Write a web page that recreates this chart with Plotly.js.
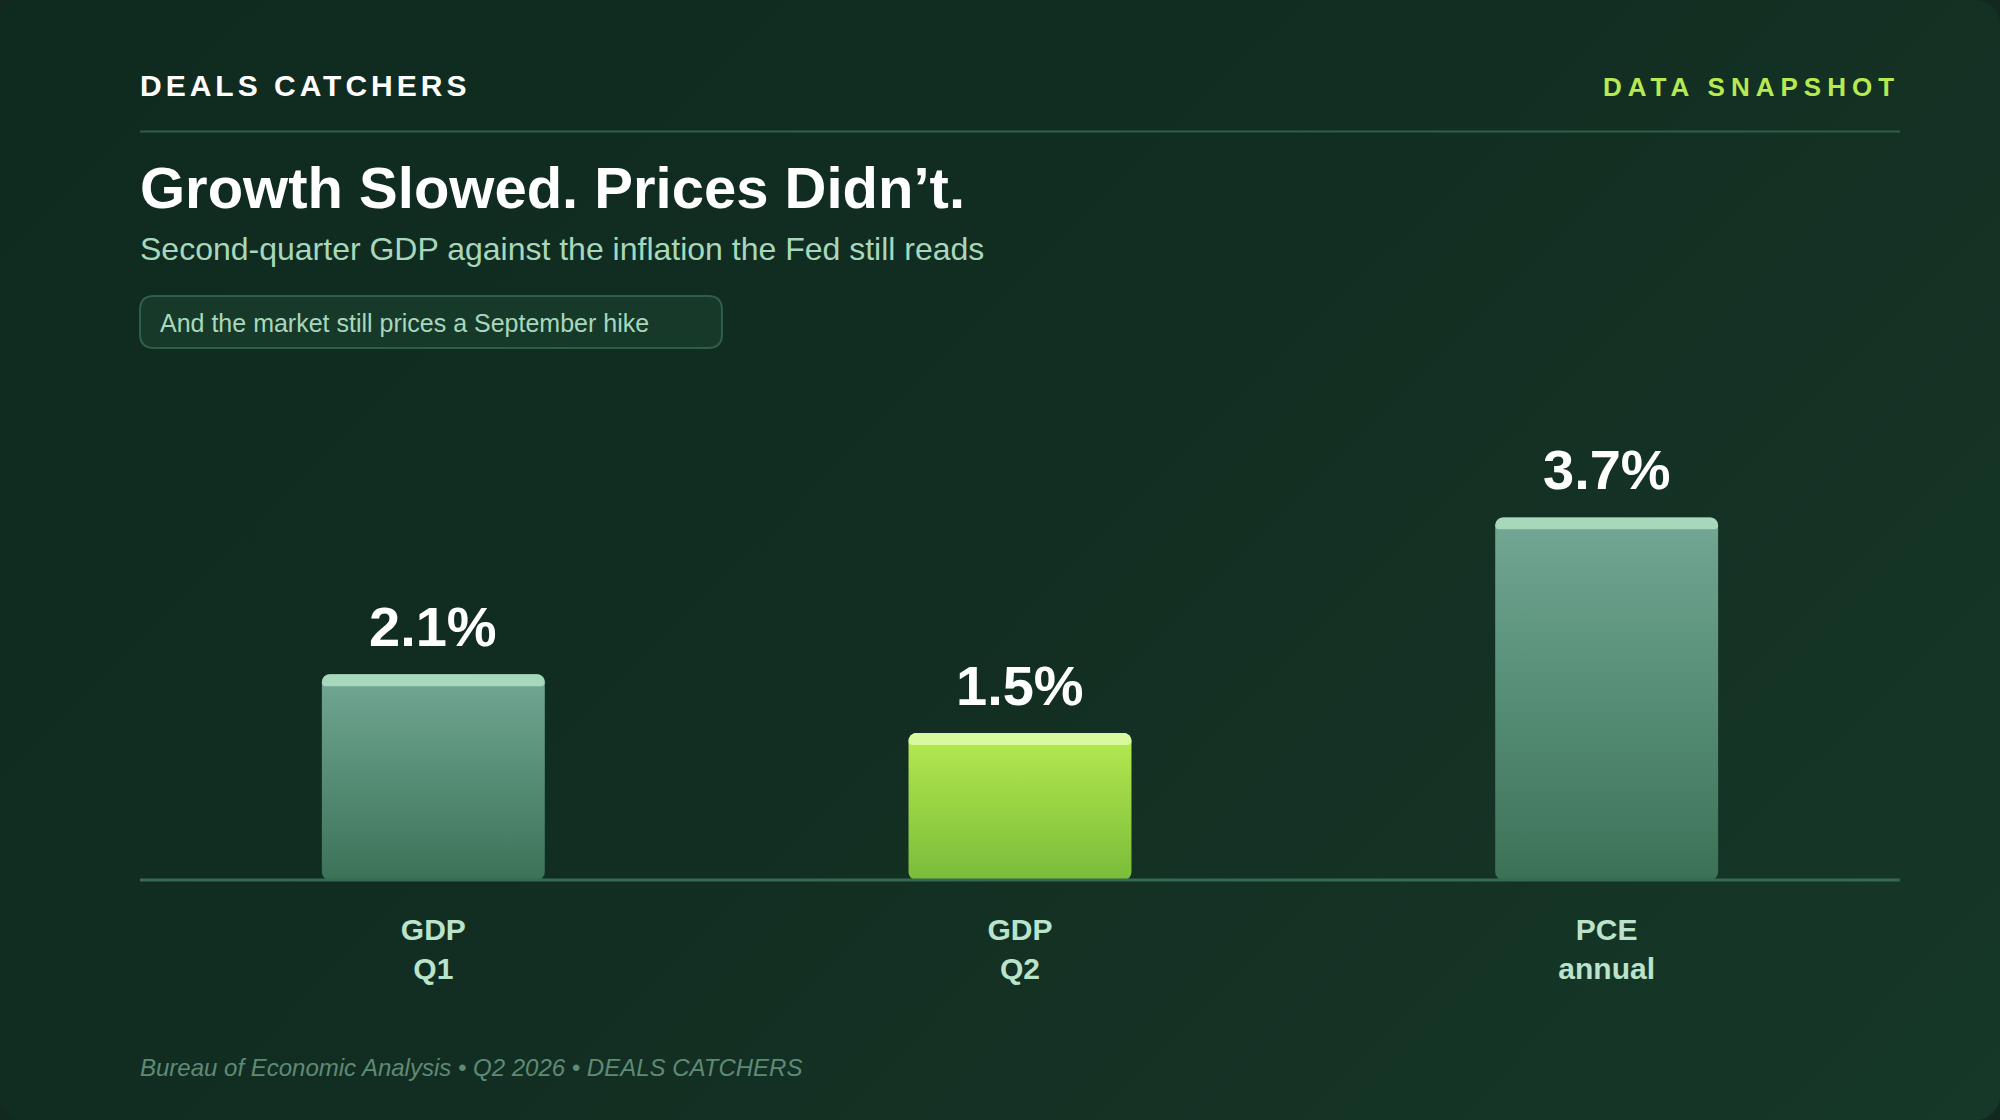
<!DOCTYPE html>
<html><head><meta charset="utf-8">
<script src="https://cdn.plot.ly/plotly-3.0.1.min.js"></script>
<style>html,body{margin:0;padding:0;width:2000px;height:1120px;overflow:hidden;background:#11291f;}#c{width:2000px;height:1120px;border-radius:24px;background:linear-gradient(135deg,#0f2b1f 0%,#122e22 50%,#163828 100%);}</style>
</head><body><div id="c"></div>
<script>
const categories=['GDP<br>Q1','GDP<br>Q2','PCE<br>annual'];
const values=[2.1,1.5,3.7];
const valueLabels=['2.1%','1.5%','3.7%'];
const capThickness=[0.122,0.122,0.122];
const topColors=['#72a894','#b6ea50','#72a894'];
const bottomColors=['#3b7257','#7abc39','#3b7257'];
const capColors=['#a8d8bc','#d9f99d','#a8d8bc'];
const FONT='"Liberation Sans",Arial,sans-serif';
const L=140,W=1760,B=880,H=490;
const px=x=>(x-L)/W, py=y=>(B-y)/H;
function rr(x0,y0,x1,y1,r){const X=px,Y=py;
 return `M${X(x0+r)},${Y(y0)}L${X(x1-r)},${Y(y0)}Q${X(x1)},${Y(y0)} ${X(x1)},${Y(y0+r)}L${X(x1)},${Y(y1-r)}Q${X(x1)},${Y(y1)} ${X(x1-r)},${Y(y1)}L${X(x0+r)},${Y(y1)}Q${X(x0)},${Y(y1)} ${X(x0)},${Y(y1-r)}L${X(x0)},${Y(y0+r)}Q${X(x0)},${Y(y0)} ${X(x0+r)},${Y(y0)}Z`;}
const note=(text,x,y,size,color,o={})=>Object.assign({text,x:px(x),y:py(y),xref:'paper',yref:'paper',xanchor:'left',yanchor:'middle',showarrow:false,font:{family:FONT,size,color}},o);
const annotations=[
 note('<b><span style="letter-spacing:4px">DEALS CATCHERS</span></b>',137.5,85.5,30,'#ffffff'),
 note('<b><span style="letter-spacing:6px">DATA SNAPSHOT</span></b>',1902,87,26,'#b6ea50',{xanchor:'right'}),
 note('<b>Growth Slowed. Prices Didn’t.</b>',137.5,188,58,'#ffffff'),
 note('Second-quarter GDP against the inflation the Fed still reads',137.5,249,32,'#a8d8bc'),
 note('And the market still prices a September hike',157.5,323,25,'#a8d8bc'),
 note('<i>Bureau of Economic Analysis • Q2 2026 • DEALS CATCHERS</i>',137.5,1067,24,'#5f8a75'),
 ...categories.map((c,i)=>({text:'<b>'+valueLabels[i]+'</b>',x:c,y:values[i],xref:'x',yref:'y',yanchor:'bottom',yshift:14,showarrow:false,font:{family:FONT,size:56,color:'#ffffff'}}))
];
const shapes=[
 {type:'line',xref:'paper',yref:'paper',x0:0,x1:1,y0:py(131.5),y1:py(131.5),line:{color:'#2f5f48',width:2}},
 {type:'path',xref:'paper',yref:'paper',path:rr(140,296,722,348,14),fillcolor:'#17392a',line:{color:'#2f5f48',width:2}},
 {type:'line',layer:'above',xref:'paper',yref:'paper',x0:0,x1:1,y0:py(880),y1:py(880),line:{color:'#356b50',width:3}}
];
const data=[
 {type:'bar',name:'value',x:categories,y:values,marker:{color:topColors,line:{width:0}},hoverinfo:'skip',showlegend:false},
 {type:'bar',name:'cap',x:categories,y:capThickness,base:values.map((v,i)=>v-capThickness[i]),marker:{color:capColors,line:{width:0}},hoverinfo:'skip',showlegend:false}
];
const layout={width:2000,height:1120,paper_bgcolor:'rgba(0,0,0,0)',plot_bgcolor:'rgba(0,0,0,0)',
 margin:{l:L,r:100,t:B-H,b:1120-B,pad:0},barmode:'overlay',bargap:0.62,showlegend:false,
 xaxis:{type:'category',categoryorder:'array',categoryarray:categories,showgrid:false,zeroline:false,showline:false,ticks:'',
  tickfont:{family:FONT,size:30,color:'#b9e4cb'},automargin:false,ticklabelstandoff:29,tickprefix:'<b>',ticksuffix:'</b>'},
 yaxis:{range:[0,5],visible:false,showgrid:false,zeroline:false,fixedrange:true},
 annotations,shapes};
Plotly.newPlot('c',data,layout,{staticPlot:true,displayModeBar:false}).then(gd=>{
 const svg=gd.querySelector('.main-svg');
 const NS='http://www.w3.org/2000/svg';
 const defs=svg.querySelector('defs')||svg.insertBefore(document.createElementNS(NS,'defs'),svg.firstChild);
 const traces=gd.querySelectorAll('.barlayer .trace');
 const round=(p,r0,r1)=>{const b=p.getBBox(),x0=b.x,y0=b.y,x1=b.x+b.width,y1=b.y+b.height;
  p.setAttribute('d',`M${x0},${y0+r0}A${r0},${r0} 0 0 1 ${x0+r0},${y0}H${x1-r0}A${r0},${r0} 0 0 1 ${x1},${y0+r0}V${y1-r1}A${r1},${r1} 0 0 1 ${x1-r1},${y1}H${x0+r1}A${r1},${r1} 0 0 1 ${x0},${y1-r1}Z`);};
 traces[0].querySelectorAll('.point path').forEach((p,i)=>{
  const g=document.createElementNS(NS,'linearGradient');g.id='barfill'+i;
  g.setAttribute('x1','0');g.setAttribute('y1','0');g.setAttribute('x2','0');g.setAttribute('y2','1');
  [[0,topColors[i]],[1,bottomColors[i]]].forEach(([o,c])=>{const s=document.createElementNS(NS,'stop');s.setAttribute('offset',o);s.setAttribute('stop-color',c);g.appendChild(s);});
  defs.appendChild(g);
  round(p,8,8);p.style.fill='url(#barfill'+i+')';
 });
 traces[1].querySelectorAll('.point path').forEach(p=>round(p,8,4));
});
</script></body></html>
